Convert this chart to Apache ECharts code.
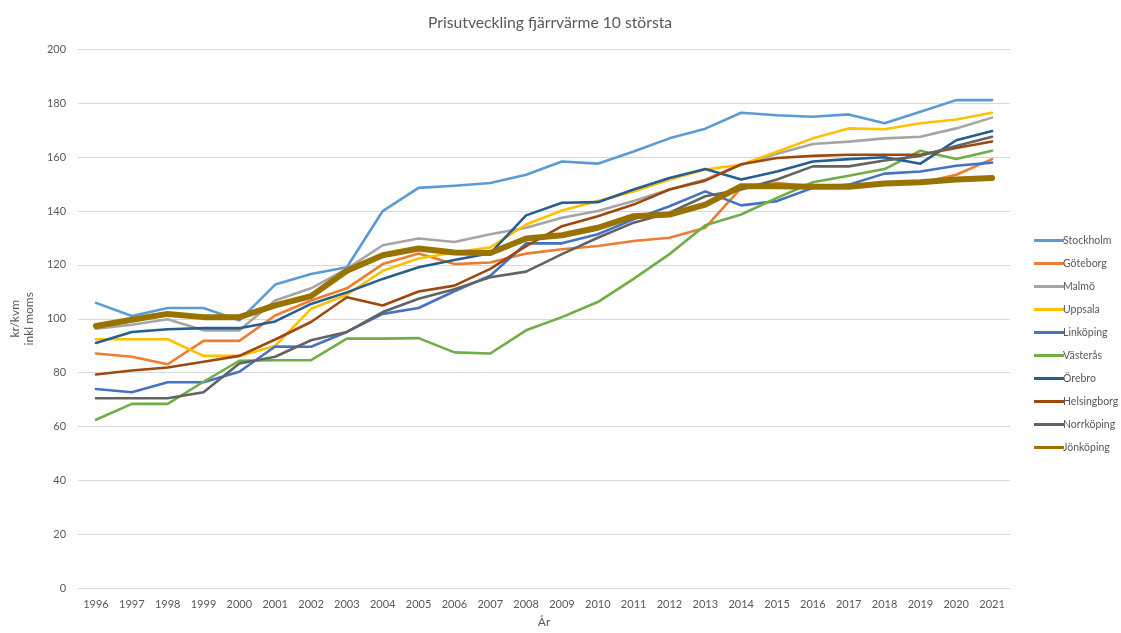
<!DOCTYPE html>
<html>
<head>
<meta charset="utf-8">
<title>Prisutveckling fjärrvärme</title>
<script src="https://cdn.jsdelivr.net/npm/echarts@6/dist/echarts.min.js"></script>
<style>
  html, body { margin: 0; padding: 0; background: #ffffff; }
  #chart { width: 1121px; height: 633px; }
</style>
</head>
<body>
<div id="chart"></div>
<script>
// år på x-axeln
const years = ['1996', '1997', '1998', '1999', '2000', '2001', '2002', '2003', '2004', '2005', '2006', '2007', '2008',
  '2009', '2010', '2011', '2012', '2013', '2014', '2015', '2016', '2017', '2018', '2019', '2020', '2021']

// kr/kvm inkl moms
const stockholm = [105.9, 101, 104, 104, 99.4, 112.7, 116.6, 119.1, 140, 148.6, 149.4, 150.4, 153.5, 158.4, 157.6, 162.1, 167, 170.6, 176.5, 175.6, 175, 175.9, 172.6, 176.9, 181.2, 181.2]
const goteborg = [87.1, 85.9, 83.1, 91.8, 91.8, 101.2, 106.8, 111.3, 120.3, 124.2, 120.3, 120.9, 124.2, 125.8, 127, 128.9, 130.1, 133.8, 148.6, 150.4, 149.2, 149.2, 149.8, 150.4, 153.5, 159.3]
const malmo = [96.3, 97.8, 99.8, 95.7, 95.7, 106.8, 111.3, 118.5, 127.3, 129.8, 128.5, 131.4, 133.8, 137.5, 140, 143.7, 148, 151.7, 157.2, 161.3, 164.9, 165.8, 167, 167.6, 170.7, 174.7]
const uppsala = [92.4, 92.4, 92.4, 86.2, 86.2, 89.9, 103.7, 108.9, 117.8, 122.4, 124.6, 126.5, 135, 140.2, 143.7, 147.3, 151.7, 155.4, 157.2, 162, 167, 170.7, 170.4, 172.6, 174, 176.5]
const linkoping = [73.9, 72.7, 76.4, 76.4, 80.3, 89.7, 89.6, 95.1, 101.8, 104, 110.2, 116, 128, 128, 131.4, 136.9, 141.8, 147.3, 142.1, 143.7, 148.6, 149.8, 153.9, 154.7, 156.8, 158]
const vasteras = [62.5, 68.4, 68.4, 76.6, 84.4, 84.6, 84.6, 92.6, 92.6, 92.8, 87.5, 87.1, 95.7, 100.6, 106.2, 114.8, 124, 134.7, 138.7, 144.9, 150.7, 153.1, 155.6, 162.4, 159.3, 162.4]
const orebro = [91, 95.1, 96.1, 96.5, 96.5, 99, 105.5, 109.8, 114.8, 119.1, 121.8, 124.3, 138.4, 143.1, 143.3, 148, 152.3, 155.6, 151.7, 154.7, 158.4, 159.3, 160, 157.6, 166.3, 169.7]
const helsingborg = [79.3, 80.8, 81.9, 84, 86.2, 92.3, 98.8, 108, 104.9, 110.1, 112.3, 118.5, 127, 134.4, 138.1, 142.4, 148, 151.3, 157.4, 159.7, 160.5, 160.9, 160.9, 160.9, 163.4, 165.8]
const norrkoping = [70.5, 70.5, 70.5, 72.7, 83.4, 85.9, 92, 95.1, 102.5, 107.4, 111, 115.4, 117.5, 124, 130.1, 135.7, 139.4, 145.5, 148, 151.7, 156.6, 156.6, 158.8, 160.5, 164.2, 167.6]
const jonkoping = [97.3, 99.6, 101.8, 100.6, 100.6, 105, 108.4, 117.8, 123.6, 126.1, 124.6, 124.4, 129.8, 131, 133.8, 138.1, 138.7, 142.4, 149.2, 149.2, 149, 149, 150.2, 150.7, 151.7, 152.3]

const cityNames = ['Stockholm', 'Göteborg', 'Malmö', 'Uppsala', 'Linköping', 'Västerås', 'Örebro', 'Helsingborg', 'Norrköping', 'Jönköping']
const cityData = [stockholm, goteborg, malmo, uppsala, linkoping, vasteras, orebro, helsingborg, norrkoping, jonkoping]
const cityColors = ['#5B9BD5', '#ED7D31', '#A5A5A5', '#FFC000', '#4472C4', '#70AD47', '#255E91', '#9E480E', '#636363', '#997300']

const textColor = '#595959'
const fontName = 'Lato'

const chartInstance = echarts.init(document.getElementById('chart'))

const seriesList = cityNames.map((name, i) => {
  // Jönköping är utmärkt med tjockare linje
  const width = name === 'Jönköping' ? 6 : 2.6
  return {
    name: name,
    type: 'line',
    data: cityData[i],
    symbol: 'none',
    color: cityColors[i],
    lineStyle: { width: width, color: cityColors[i], cap: 'round', join: 'round' },
    emphasis: { disabled: true }
  }
})

const option = {
  animation: false,
  backgroundColor: '#ffffff',
  title: {
    text: 'Prisutveckling fjärrvärme 10 största',
    left: 423,
    top: 10,
    textStyle: { color: textColor, fontFamily: fontName, fontSize: 15.7, fontWeight: 'normal' }
  },
  legend: {
    orient: 'vertical',
    left: 1029,
    top: 230,
    itemWidth: 30,
    itemHeight: 14,
    itemGap: 12,
    icon: 'path://M0,0 L30,0 L30,3 L0,3 Z',
    textStyle: { color: textColor, fontFamily: fontName, fontSize: 10.5, padding: [0, 0, 0, -6] },
    data: cityNames
  },
  grid: {
    left: 74,
    right: 111,
    top: 49.5,
    bottom: 42.5,
    containLabel: false
  },
  xAxis: {
    type: 'category',
    data: years,
    boundaryGap: true,
    name: 'År',
    nameLocation: 'middle',
    nameGap: 28,
    nameTextStyle: { color: textColor, fontFamily: fontName, fontSize: 12 },
    axisLine: { lineStyle: { color: '#D9D9D9', width: 1 } },
    axisTick: { show: false },
    axisLabel: { color: textColor, fontFamily: fontName, fontSize: 11, margin: 11, interval: 0 }
  },
  yAxis: {
    type: 'value',
    min: 0,
    max: 200,
    interval: 20,
    name: 'kr/kvm\ninkl moms',
    nameLocation: 'middle',
    nameGap: 38,
    nameTextStyle: { color: textColor, fontFamily: fontName, fontSize: 12, lineHeight: 14, align: 'center' },
    axisLine: { show: false },
    axisTick: { show: false },
    axisLabel: { color: textColor, fontFamily: fontName, fontSize: 11, margin: 12 },
    splitLine: { lineStyle: { color: '#D9D9D9', width: 1 } }
  },
  series: seriesList
}

chartInstance.setOption(option)
</script>
</body>
</html>
